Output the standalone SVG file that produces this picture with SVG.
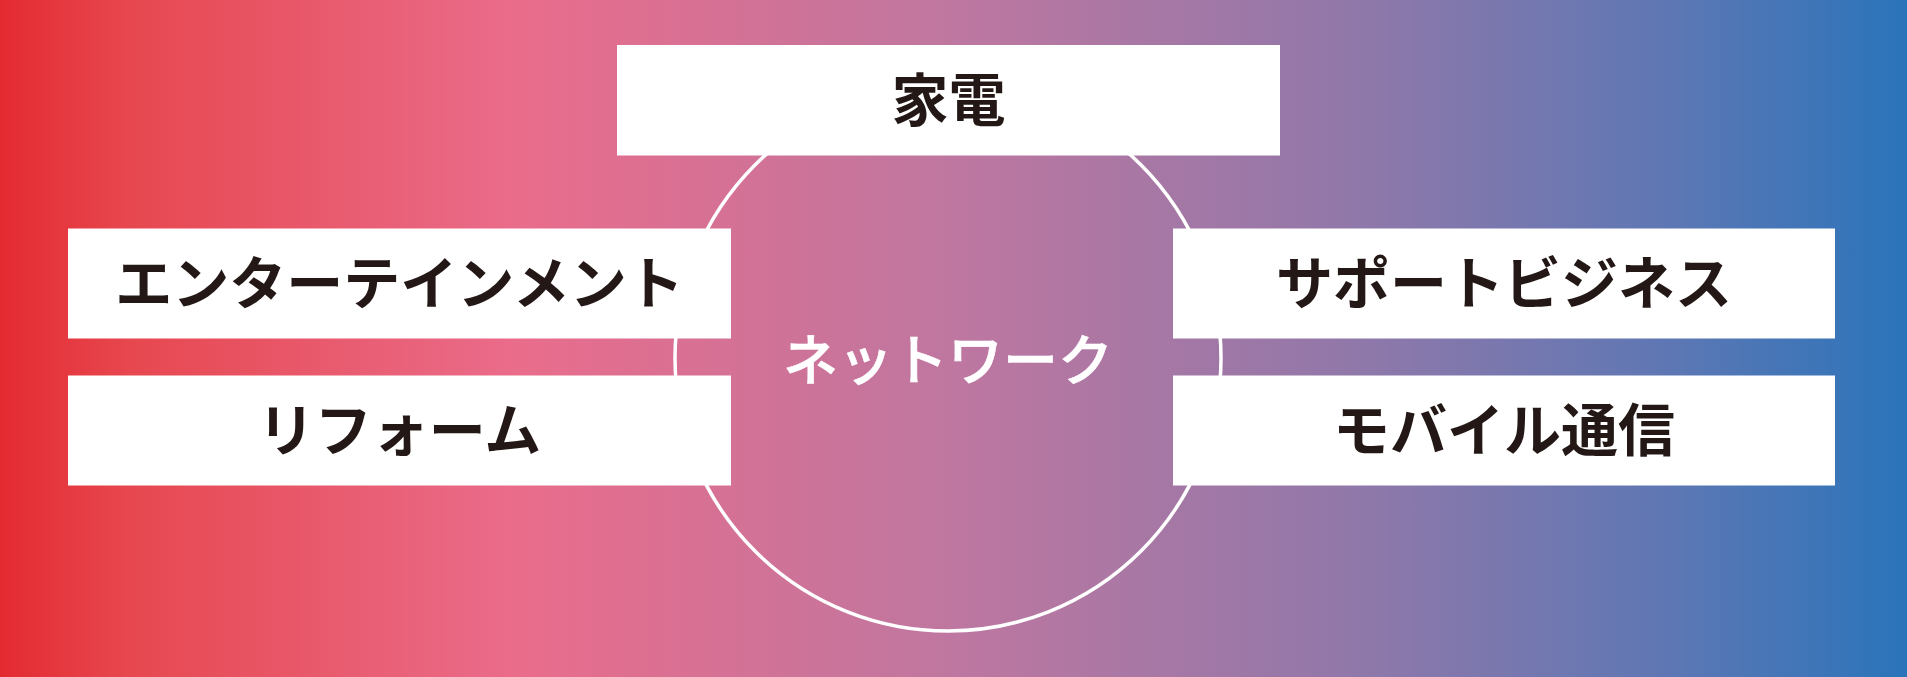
<svg xmlns="http://www.w3.org/2000/svg" width="1907" height="677" viewBox="0 0 1907 677">
<style>
.box{fill:#ffffff}
.lbl{font-family:"Noto Sans CJK JP","Noto Sans CJK SC",sans-serif;font-weight:700;font-size:57px;fill:#231815;text-anchor:middle}
.ctr{font-family:"Noto Sans CJK JP","Noto Sans CJK SC",sans-serif;font-weight:500;font-size:55px;fill:#ffffff;stroke:#ffffff;stroke-width:0.6px;text-anchor:middle}
</style>
<defs>
<linearGradient id="bg" x1="0" y1="0" x2="1" y2="0">
<stop offset="0" stop-color="#E42A31"/>
<stop offset="0.07" stop-color="#E74850"/>
<stop offset="0.27" stop-color="#EA6C8B"/>
<stop offset="0.5" stop-color="#BE77A0"/>
<stop offset="0.72" stop-color="#8E78AA"/>
<stop offset="0.88" stop-color="#5C77B4"/>
<stop offset="1" stop-color="#2A74BA"/>
</linearGradient>
</defs>
<rect x="0" y="0" width="1907" height="677" fill="url(#bg)"/>
<g id="connectors">
<circle cx="948" cy="358" r="273" fill="none" stroke="#ffffff" stroke-width="3.5"/>
</g>
<g id="network">
<text class="ctr" x="948" y="380">ネットワーク</text>
</g>
<g id="kaden">
<rect class="box" x="617" y="45" width="663" height="110.5"/>
<text class="lbl" x="948.5" y="121">家電</text>
</g>
<g id="entertainment">
<rect class="box" x="68" y="228.5" width="663" height="110"/>
<text class="lbl" x="399.5" y="304">エンターテインメント</text>
</g>
<g id="reform">
<rect class="box" x="68" y="375.5" width="663" height="110"/>
<text class="lbl" x="399.5" y="451">リフォーム</text>
</g>
<g id="support">
<rect class="box" x="1173" y="228.5" width="662" height="110"/>
<text class="lbl" x="1504" y="304">サポートビジネス</text>
</g>
<g id="mobile">
<rect class="box" x="1173" y="375.5" width="662" height="110"/>
<text class="lbl" x="1504" y="451">モバイル通信</text>
</g>
</svg>
